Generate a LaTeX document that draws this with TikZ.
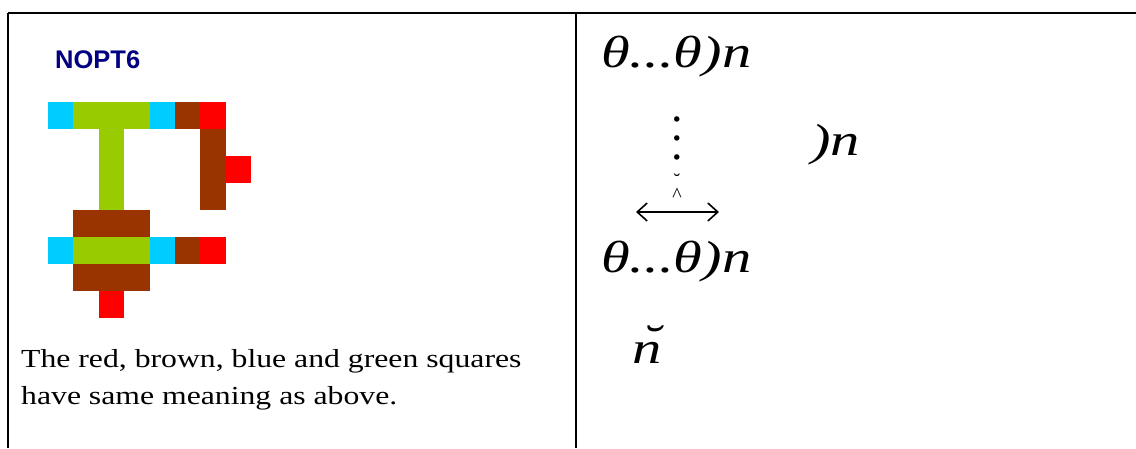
\documentclass[tikz,border=0pt]{standalone}
\usepackage{fontspec}
\setmainfont{Liberation Serif}
\newfontfamily\headfont{Liberation Sans}
\newfontfamily\notefont{Liberation Serif}[FakeStretch=1.22]
\newfontfamily\widemath{Liberation Serif}[FakeStretch=1.3]
\usepackage{tikz}
\usetikzlibrary{arrows.meta, positioning}
\definecolor{cellcyan}{RGB}{0,204,255}
\definecolor{cellgreen}{RGB}{153,204,0}
\definecolor{cellbrown}{RGB}{153,51,0}
\definecolor{cellred}{RGB}{255,0,0}
\definecolor{titlenavy}{RGB}{0,0,128}
\tikzset{
  frame/.style={line width=2pt, color=black},
  mathtext/.style={anchor=base west, inner sep=0pt,
    font=\fontsize{45}{45}\selectfont\widemath\itshape},
  note/.style={anchor=base west, inner sep=0pt, align=left,
    font=\fontsize{26}{37}\selectfont\notefont},
  arrow/.style={{Straight Barb[length=10pt,width=18pt]}-{Straight Barb[length=10pt,width=18pt]}, line width=1.6pt}
}
% block of cells: first col, first row, last col, last row, colour
\newcommand{\blk}[5]{\fill[#5] (48+25.4*#1, 102+27*#2) rectangle (48+25.4*#3+25.4, 102+27*#4+27);}

\begin{document}
\begin{tikzpicture}[x=1pt, y=-1pt]
  \useasboundingbox (0,0) rectangle (1136,448);
  % table lines
  \draw[frame] (8,13) -- (1136,13);
  \draw[frame] (8,13) -- (8,448);
  \draw[frame] (576,13) -- (576,448);

  % left cell
  \node[anchor=base west, inner sep=0pt, text=titlenavy,
    font=\fontsize{25.5}{25.5}\selectfont\headfont\bfseries] (title) at (55,68) {NOPT6};
  % top bar
  \blk{0}{0}{0}{0}{cellcyan}
  \blk{1}{0}{3}{0}{cellgreen}
  \blk{4}{0}{4}{0}{cellcyan}
  \blk{5}{0}{5}{0}{cellbrown}
  \blk{6}{0}{6}{0}{cellred}
  % stems
  \blk{2}{1}{2}{3}{cellgreen}
  \blk{6}{1}{6}{3}{cellbrown}
  \blk{7}{2}{7}{2}{cellred}
  % lower bar
  \blk{1}{4}{3}{4}{cellbrown}
  \blk{0}{5}{0}{5}{cellcyan}
  \blk{1}{5}{3}{5}{cellgreen}
  \blk{4}{5}{4}{5}{cellcyan}
  \blk{5}{5}{5}{5}{cellbrown}
  \blk{6}{5}{6}{5}{cellred}
  \blk{1}{6}{3}{6}{cellbrown}
  \blk{2}{7}{2}{7}{cellred}

  \node[note] (caption) at (21,404) {The red, brown, blue and green squares\\have same meaning as above.};

  % right cell
  \node[mathtext] (firstrow) at (601,67) {θ...θ)n};
  \node[anchor=center, inner sep=0pt, align=center,
    font=\fontsize{46}{19}\selectfont] (vdots) at (677,138) {.\\.\\.};
  \node[mathtext] (midrow) at (811,155) {)n};
  \node[anchor=center, inner sep=0pt, align=center,
    font=\fontsize{20}{4}\selectfont] (hatmark) at (677,188) {˘\\\^{}};
  \coordinate (arrL) at (636,212);
  \coordinate (arrR) at (719,212);
  \draw[arrow] (arrL) -- (arrR);
  \node[mathtext] (lastrow) at (601,272) {θ...θ)n};
  \node[mathtext] (breven) at (632,363) {n\llap{\raisebox{7pt}{˘}}};
\end{tikzpicture}
\end{document}
